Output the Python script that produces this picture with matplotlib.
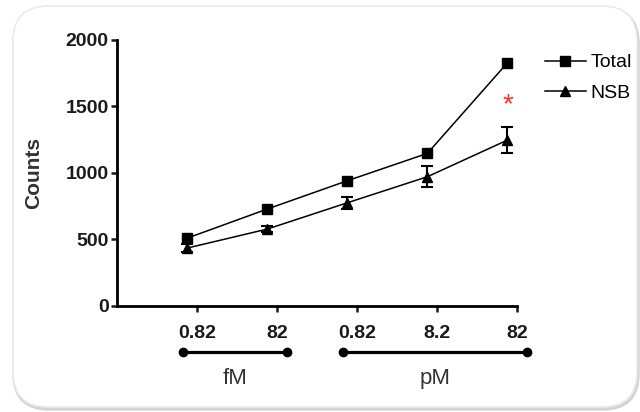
import matplotlib
matplotlib.use("Agg")
import matplotlib.pyplot as plt
import matplotlib.transforms as mtransforms
from matplotlib.patches import FancyBboxPatch

plt.rcParams["font.family"] = ["Liberation Sans", "DejaVu Sans"]

# data
positions = [1, 2, 3, 4, 5]
tick_labels = ["0.82", "82", "0.82", "8.2", "82"]
total_counts = [508, 727, 940, 1146, 1828]
nsb_counts = [433, 576, 774, 970, 1246]
nsb_err = [30, 20, 45, 80, 95]
groups = ["fM", "pM"]
group_members = [[1, 2], [3, 5]]
star_position = 5
star_value = 1510

shift = 0.12  # markers sit a bit left of their ticks
xs = [p - shift for p in positions]

fig = plt.figure(figsize=(6.4, 4.12), dpi=100)

# rounded frame with a soft shadow
asp = 640 / 412
shadow = FancyBboxPatch((14 / 640, 3 / 412), 624 / 640, 401 / 412,
                        boxstyle="round,pad=0,rounding_size=0.055",
                        mutation_aspect=asp, transform=fig.transFigure,
                        facecolor="none", edgecolor="#d4d4d4", linewidth=2.5,
                        zorder=-2)
frame = FancyBboxPatch((13 / 640, 5 / 412), 624 / 640, 401 / 412,
                       boxstyle="round,pad=0,rounding_size=0.055",
                       mutation_aspect=asp, transform=fig.transFigure,
                       facecolor="white", edgecolor="#ebebeb", linewidth=1.2,
                       zorder=-1)
fig.patches.append(shadow)
fig.patches.append(frame)

ax = fig.add_axes([117 / 640, 106.5 / 412, 400 / 640, 265.5 / 412])
ax.set_zorder(2)
ax.patch.set_alpha(0)

ax.plot(xs, total_counts, color="black", lw=1.1, marker="s", ms=7.5,
        label="Total", clip_on=False, zorder=3)
ax.errorbar(xs, nsb_counts, yerr=nsb_err, fmt="none", ecolor="black",
            capsize=4.5, capthick=1.5, elinewidth=1.5, clip_on=False, zorder=3)
ax.plot(xs, nsb_counts, color="black", lw=1.1, marker="^", ms=7.5,
        label="NSB", clip_on=False, zorder=3)

ax.text(star_position - shift, star_value, "*", color="#ff2a2a", fontsize=20,
        ha="center", va="center")

ax.set_xlim(0, 5)
ax.set_ylim(0, 2000)
ax.set_xticks(positions)
ax.set_xticklabels(tick_labels)
ax.set_yticks([0, 500, 1000, 1500, 2000])

for side in ["top", "right"]:
    ax.spines[side].set_visible(False)
for side in ["left", "bottom"]:
    ax.spines[side].set_linewidth(2)

ax.tick_params(axis="both", direction="out", length=4, width=1.8,
               labelsize=14, colors="#1a1a1a")
ax.tick_params(axis="x", pad=10)
ax.tick_params(axis="y", pad=2)
for lab in ax.get_xticklabels() + ax.get_yticklabels():
    lab.set_fontweight("bold")

ax.set_ylabel("Counts", fontsize=15, fontweight="bold", color="#333333")
ax.yaxis.set_label_coords(-0.185, 0.5)

ax.legend(loc="upper left", bbox_to_anchor=(1.07, 0.948), frameon=False,
          fontsize=14, handlelength=2.1, handletextpad=0.25, labelspacing=0.65,
          borderpad=0, borderaxespad=0)

# concentration group brackets under the axis
trans = mtransforms.blended_transform_factory(ax.transData, ax.transAxes)
for name, (first, last) in zip(groups, group_members):
    ax.plot([first - 0.18, last + 0.12], [-0.175, -0.175], color="black",
            lw=2.3, marker="o", ms=6, transform=trans, clip_on=False)
    ax.text((first + last) / 2 - 0.03, -0.275, name, transform=trans,
            ha="center", va="center", fontsize=16, color="#333333")

fig.savefig("out.png", dpi=100)
